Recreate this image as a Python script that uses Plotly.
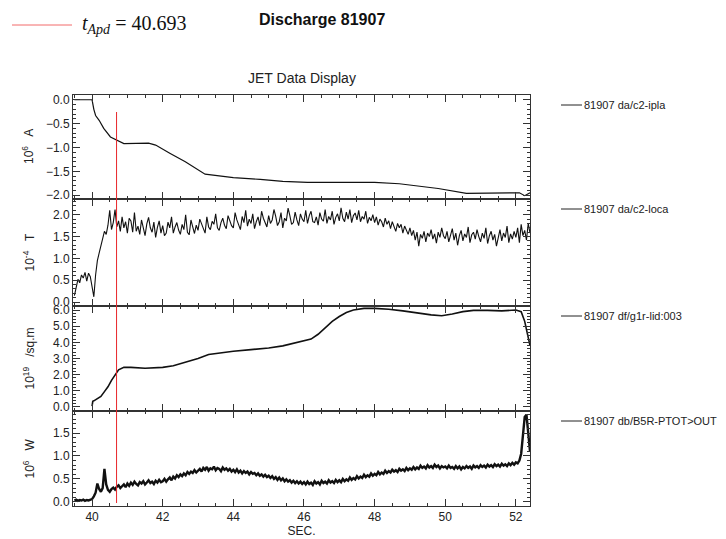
import numpy as np
import plotly.graph_objects as go
from plotly.subplots import make_subplots

# ---------------- data ----------------
shot = "81907"
t_apd = 40.693

# Panel 1: plasma current (10^6 A)
ipla_t = [39.5, 40.0, 40.05, 40.1, 40.2, 40.33, 40.52, 40.74, 40.9, 41.6, 41.8, 42.2, 42.64,
          43.2, 43.5, 44.0, 44.76, 45.4, 46.1, 47.0, 48.0, 48.7, 49.2, 49.8, 50.6, 51.0,
          51.8, 52.1, 52.25, 52.4]
ipla_v = [0.0, 0.0, -0.2, -0.33, -0.43, -0.60, -0.78, -0.87, -0.92, -0.91, -0.95, -1.12, -1.30,
          -1.56, -1.59, -1.63, -1.67, -1.71, -1.73, -1.73, -1.73, -1.76, -1.80, -1.86, -1.96, -1.96,
          -1.95, -1.95, -2.01, -1.95]

# Panel 2: loca (10^-4 T), sampled every 0.05 s from 39.5 s to 52.4 s
loca_v = [
    0.15, 0.38, 0.52, 0.44, 0.62, 0.55, 0.68, 0.48, 0.66, 0.58,
    0.35, 0.12, 0.62, 0.95, 1.12, 1.28, 1.48, 1.62, 1.55, 1.76, 2.10, 1.66, 1.82, 2.12, 1.72, 1.86, 1.62, 1.95, 1.70, 1.84,
    1.58, 1.92, 1.86, 1.60, 2.05, 1.62, 1.74, 1.55, 1.88, 1.68, 1.52, 1.79, 1.94, 1.70, 1.60, 1.83, 1.48, 1.71, 1.86, 1.58,
    1.75, 1.52, 1.58, 1.83, 1.70, 1.95, 1.58, 1.72, 1.82, 1.65, 1.55, 1.78, 1.66, 2.00, 1.60, 1.54, 1.88, 1.72, 1.57, 1.76,
    1.64, 1.90, 1.80, 1.70, 1.58, 1.95, 1.72, 1.66, 1.85, 1.78, 2.02, 1.70, 1.64, 1.82, 1.92, 1.76, 1.68, 1.98, 1.84, 1.75,
    1.70, 2.05, 1.88, 1.78, 1.66, 1.96, 1.82, 2.10, 1.74, 1.90, 1.80, 2.02, 1.68, 1.84, 1.95, 1.75, 2.08, 1.92, 1.82, 1.72,
    1.98, 1.80, 1.88, 2.12, 1.96, 1.75, 1.84, 2.05, 1.70, 1.92, 1.86, 2.15, 1.98, 1.78, 1.82, 2.06, 1.88, 1.75, 2.02, 1.90,
    1.84, 2.10, 1.80, 1.98, 2.08, 1.84, 1.82, 1.95, 1.76, 2.05, 1.90, 1.85, 2.12, 1.80, 1.96, 1.88, 2.08, 1.78, 1.94, 2.02,
    1.86, 2.16, 1.92, 1.84, 2.06, 1.90, 2.12, 1.82, 1.98, 2.04, 1.88, 2.10, 1.84, 1.96, 1.90, 2.08, 1.80, 1.94, 1.86, 2.00,
    1.82, 1.95, 1.76, 1.90, 1.84, 1.72, 1.92, 1.78, 1.86, 1.68, 1.84, 1.74, 1.62, 1.80, 1.70, 1.78, 1.58, 1.74, 1.66, 1.55,
    1.70, 1.52, 1.64, 1.42, 1.60, 1.28, 1.55, 1.46, 1.62, 1.38, 1.58, 1.50, 1.66, 1.44, 1.56, 1.35, 1.60, 1.48, 1.70, 1.52,
    1.45, 1.62, 1.38, 1.55, 1.68, 1.42, 1.58, 1.30, 1.52, 1.64, 1.40, 1.56, 1.48, 1.72, 1.36, 1.54, 1.60, 1.44, 1.66, 1.50,
    1.38, 1.58, 1.46, 1.70, 1.34, 1.52, 1.62, 1.42, 1.55, 1.28, 1.50, 1.66, 1.40, 1.58, 1.48, 1.74, 1.36, 1.56, 1.44, 1.62,
    1.48, 1.70, 1.36, 1.78, 1.52, 1.64, 1.42, 1.80, 1.58,
]

# Panel 3: line density (10^19 /sq.m)
dens_t = [40.0, 40.02, 40.05, 40.15, 40.25, 40.35, 40.45, 40.55, 40.65, 40.75, 40.9, 41.1, 41.5,
          42.0, 42.3, 42.6, 43.0, 43.3, 43.6, 44.0, 44.5, 45.0, 45.4, 45.7, 46.0, 46.2, 46.4,
          46.6, 46.8, 47.0, 47.2, 47.4, 47.7, 48.0, 48.4, 48.8, 49.2, 49.6, 49.9, 50.2, 50.5,
          50.8, 51.2, 51.6, 52.0, 52.15, 52.25, 52.32, 52.4]
dens_v = [0.05, 0.35, 0.38, 0.50, 0.65, 0.95, 1.25, 1.65, 2.0, 2.3, 2.45, 2.45, 2.4,
          2.45, 2.55, 2.75, 3.0, 3.25, 3.35, 3.45, 3.55, 3.65, 3.78, 3.95, 4.1, 4.2, 4.5,
          4.9, 5.3, 5.6, 5.85, 6.0, 6.1, 6.1, 6.05, 5.95, 5.82, 5.7, 5.65, 5.75, 5.9,
          5.98, 5.98, 5.95, 6.0, 5.9, 5.3, 4.5, 3.8]

# Panel 4: total power (10^6 W), sampled every 0.05 s from 39.5 s to 52.4 s
ptot_v = [
    0.03, 0.05, 0.02, 0.04, 0.03, 0.05, 0.02, 0.04, 0.03, 0.05,
    0.06, 0.12, 0.20, 0.40, 0.28, 0.22, 0.30, 0.72, 0.38, 0.26, 0.22, 0.28, 0.31, 0.27, 0.33, 0.36, 0.30, 0.34, 0.38, 0.32,
    0.40, 0.35, 0.42, 0.37, 0.44, 0.39, 0.36, 0.43, 0.40, 0.45, 0.38, 0.42, 0.47, 0.41, 0.44, 0.39, 0.46, 0.42, 0.48, 0.43,
    0.45, 0.50, 0.44, 0.49, 0.53, 0.47, 0.55, 0.51, 0.58, 0.54, 0.60, 0.56, 0.62, 0.58, 0.65, 0.61, 0.66, 0.63, 0.69, 0.64,
    0.68, 0.72, 0.66, 0.74, 0.70, 0.76, 0.68, 0.73, 0.71, 0.77, 0.69, 0.74, 0.72, 0.67, 0.75, 0.70, 0.73, 0.68, 0.72, 0.66,
    0.70, 0.65, 0.71, 0.64, 0.68, 0.62, 0.67, 0.63, 0.66, 0.60, 0.65, 0.61, 0.63, 0.58, 0.62, 0.57, 0.60, 0.55, 0.59, 0.54,
    0.57, 0.52, 0.56, 0.50, 0.54, 0.48, 0.53, 0.47, 0.51, 0.45, 0.49, 0.44, 0.47, 0.42, 0.46, 0.41, 0.45, 0.40, 0.44, 0.39,
    0.43, 0.38, 0.44, 0.39, 0.42, 0.37, 0.45, 0.40, 0.43, 0.38, 0.46, 0.41, 0.44, 0.40, 0.47, 0.42, 0.45, 0.41, 0.48, 0.43,
    0.47, 0.43, 0.50, 0.45, 0.49, 0.46, 0.53, 0.48, 0.52, 0.49, 0.56, 0.51, 0.55, 0.52, 0.59, 0.54, 0.58, 0.55, 0.62, 0.57,
    0.61, 0.58, 0.65, 0.60, 0.64, 0.61, 0.68, 0.63, 0.67, 0.64, 0.70, 0.66, 0.69, 0.65, 0.72, 0.68, 0.71, 0.67, 0.74, 0.69,
    0.73, 0.70, 0.76, 0.71, 0.75, 0.72, 0.79, 0.74, 0.77, 0.73, 0.80, 0.75, 0.78, 0.74, 0.81, 0.76, 0.79, 0.73, 0.78, 0.75,
    0.77, 0.73, 0.79, 0.74, 0.76, 0.72, 0.78, 0.73, 0.77, 0.71, 0.76, 0.73, 0.78, 0.74, 0.77, 0.72, 0.79, 0.75, 0.78, 0.74,
    0.80, 0.76, 0.79, 0.75, 0.81, 0.77, 0.80, 0.76, 0.82, 0.78, 0.81, 0.77, 0.83, 0.79, 0.82, 0.78, 0.84, 0.80, 0.85, 0.81,
    0.86, 0.84, 0.90, 1.05, 1.45, 1.85, 1.90, 1.55, 1.10,
]

signal_names = ["da/c2-ipla", "da/c2-loca", "df/g1r-lid:003", "db/B5R-PTOT>OUT"]
y_titles = ["10<sup>6</sup>   A", "10<sup>-4</sup>   T", "10<sup>19</sup>   /sq.m", "10<sup>6</sup>   W"]
y_ranges = [[-2.08, 0.1], [-0.09, 2.36], [-0.25, 6.25], [-0.09, 1.98]]
y_dticks = [0.5, 0.5, 1.0, 0.5]
y_minor = [0.1, 0.1, 0.2, 0.1]
x_range = [39.46, 52.4]

# sample times for the uniformly sampled signals
grid_t = np.round(np.linspace(39.5, 52.4, len(loca_v)), 3)

# ---------------- figure ----------------
row_h = [104, 107, 105, 95]
fig = make_subplots(rows=4, cols=1, shared_xaxes=True, vertical_spacing=0, row_heights=row_h)

series = [(ipla_t, ipla_v, 1.2), (grid_t, loca_v, 1.1), (dens_t, dens_v, 1.6), (grid_t, ptot_v, 2.4)]
for i, (tx, vy, w) in enumerate(series):
    fig.add_trace(go.Scatter(x=tx, y=vy, mode="lines", line=dict(color="#111111", width=w),
                             showlegend=False, hoverinfo="skip"), row=i + 1, col=1)

axcol = "#333333"
tickfont = dict(family="Liberation Sans, Arial, sans-serif", size=12, color="#222222")
for i in range(4):
    fig.update_yaxes(row=i + 1, col=1, range=y_ranges[i], dtick=y_dticks[i], tick0=0,
                     tickformat=".1f", ticks="inside", ticklen=7, tickcolor=axcol,
                     showline=True, linecolor=axcol, linewidth=1, mirror="ticks",
                     showgrid=False, zeroline=False, tickfont=tickfont, automargin=False,
                     minor=dict(dtick=y_minor[i], tick0=0, ticks="inside", ticklen=3, tickcolor=axcol))
    fig.update_xaxes(row=i + 1, col=1, range=x_range, dtick=2, tick0=0,
                     ticks="inside", ticklen=7, tickcolor=axcol,
                     showline=True, linecolor=axcol, linewidth=1, mirror="ticks",
                     showgrid=False, zeroline=False, tickfont=tickfont, automargin=False,
                     minor=dict(dtick=0.5, tick0=0, ticks="inside", ticklen=3, tickcolor=axcol))
fig.update_xaxes(row=4, col=1, title=dict(text="SEC.", font=tickfont, standoff=0))

# layout geometry
W, H = 726, 539
ml, mr, mt, mb = 73, 196, 95, 33
pw, ph = W - ml - mr, H - mt - mb

def px_x(x):
    return (x - ml) / pw

def px_y(y):
    return (H - mb - y) / ph

annots = []
shapes = []
# y axis titles and signal labels
bounds = np.cumsum([0] + row_h)
for i in range(4):
    top, bot = bounds[i] + mt, bounds[i + 1] + mt
    annots.append(dict(text=y_titles[i], x=px_x(28), y=px_y((top + bot) / 2), xref="paper", yref="paper",
                       textangle=-90, showarrow=False, xanchor="center", yanchor="middle",
                       font=dict(family="Liberation Sans, Arial", size=12, color="#222222")))
    ly = top + 10
    shapes.append(dict(type="line", xref="paper", yref="paper", x0=px_x(561), x1=px_x(582),
                       y0=px_y(ly), y1=px_y(ly), line=dict(color="#222222", width=1)))
    annots.append(dict(text=f"{shot} {signal_names[i]}", x=px_x(582), y=px_y(ly), xref="paper", yref="paper",
                       showarrow=False, xanchor="left", yanchor="middle",
                       font=dict(family="Liberation Sans, Arial", size=11, color="#222222")))

# vertical marker at t_Apd
shapes.append(dict(type="line", xref="x", yref="paper", x0=t_apd, x1=t_apd, y0=px_y(503), y1=px_y(112),
                   line=dict(color="#e8262b", width=1), layer="above"))

# header
shapes.append(dict(type="line", xref="paper", yref="paper", x0=px_x(12), x1=px_x(72),
                   y0=px_y(25), y1=px_y(25), line=dict(color="#f26b6b", width=1)))
annots.append(dict(text="<i>t</i><sub><i>Apd</i></sub> = 40.693", x=px_x(80), y=px_y(24), xref="paper", yref="paper",
                   showarrow=False, xanchor="left", yanchor="middle",
                   font=dict(family="Liberation Serif, Times New Roman, serif", size=20, color="#111111")))
annots.append(dict(text=f"<b>Discharge {shot}</b>", x=px_x(257), y=px_y(20), xref="paper", yref="paper",
                   showarrow=False, xanchor="left", yanchor="middle",
                   font=dict(family="Liberation Sans, Arial, sans-serif", size=16, color="#111111")))
annots.append(dict(text="JET Data Display", x=0.5, y=px_y(78), xref="paper", yref="paper",
                   showarrow=False, xanchor="center", yanchor="middle",
                   font=dict(family="Liberation Sans, Arial, sans-serif", size=14, color="#222222")))

fig.update_layout(width=W, height=H, margin=dict(l=ml, r=mr, t=mt, b=mb, autoexpand=False),
                  paper_bgcolor="white", plot_bgcolor="white",
                  annotations=annots, shapes=shapes, showlegend=False)

fig.write_html("out.html")
